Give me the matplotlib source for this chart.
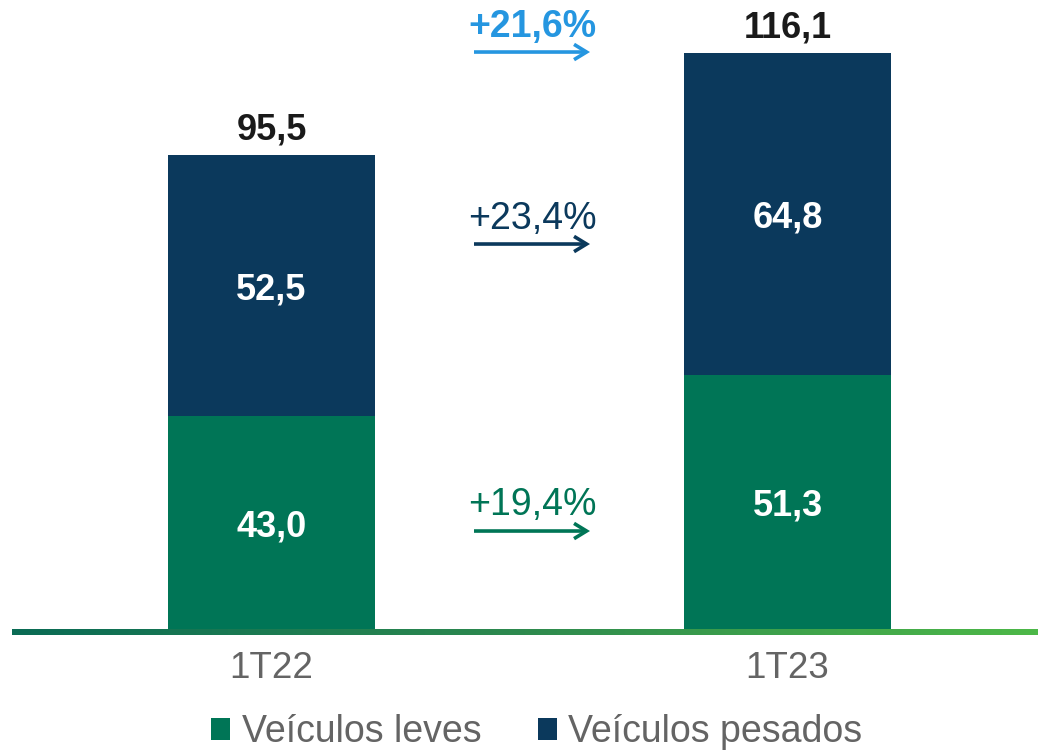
import matplotlib
matplotlib.use("Agg")
import matplotlib.pyplot as plt
import numpy as np
from matplotlib.colors import LinearSegmentedColormap
from matplotlib.patches import Patch

plt.rcParams['font.family'] = ['Liberation Sans', 'DejaVu Sans']

categories = ["1T22", "1T23"]
leves = [43.0, 51.3]
pesados = [52.5, 64.8]
totals = [95.5, 116.1]
series_names = ["Veículos leves", "Veículos pesados"]
growth_labels = ["+21,6%", "+23,4%", "+19,4%"]

GREEN = "#007556"
NAVY = "#0B395C"
BLUE = "#2596E0"
GRAY = "#646464"

W, H = 1038, 750
fig = plt.figure(figsize=(W / 100, H / 100), dpi=100)
ax = fig.add_axes([0, 0, 1, 1])
ax.set_axis_off()

pxu = 4.974  # pixels per data unit (y)
base_px = 630
ax.set_ylim(-(H - base_px) / pxu, base_px / pxu)
xc0 = 271.5
xs = 516.0
ax.set_xlim(-xc0 / xs, (W - xc0) / xs)

x = np.arange(len(categories))
bw = 207 / xs
ax.bar(x, leves, width=bw, color=GREEN, label=series_names[0], zorder=2)
ax.bar(x, pesados, width=bw, bottom=leves, color=NAVY, label=series_names[1], zorder=2)

# gradient baseline
cmap = LinearSegmentedColormap.from_list("g", ["#0A6B55", "#2E8A4E", "#4DB848"])
grad = np.linspace(0, 1, 512).reshape(1, -1)
ax.imshow(grad, cmap=cmap, aspect='auto',
          extent=[(12 - xc0) / xs, (W - xc0) / xs, -5.5 / pxu, 0.3 / pxu], zorder=3)

for i in range(len(categories)):
    ax.text(x[i], leves[i] / 2, f"{leves[i]:.1f}".replace('.', ','), color='white',
            fontsize=26, fontweight='bold', ha='center', va='center_baseline', zorder=4)
    ax.text(x[i], leves[i] + pesados[i] / 2, f"{pesados[i]:.1f}".replace('.', ','), color='white',
            fontsize=26, fontweight='bold', ha='center', va='center_baseline', zorder=4)
    ax.annotate(f"{totals[i]:.1f}".replace('.', ','), (x[i], totals[i]), xytext=(0, 11),
                textcoords='offset points', color='#1A1A1A', fontsize=26,
                fontweight='bold', ha='center', va='baseline')
    ax.text(x[i], -9.7, categories[i], color=GRAY, fontsize=26.5, ha='center', va='baseline')

# growth arrows
x0a = (474 - xc0) / xs
x1a = (590 - xc0) / xs
arrow_y = [116.2, 77.6, 19.9]
label_y = [119.3, 80.7, 23.2]
colors = [BLUE, NAVY, GREEN]
weights = ['bold', 'normal', 'normal']
for ay, ly, c, lbl, wgt in zip(arrow_y, label_y, colors, growth_labels, weights):
    ax.annotate("", xy=(x1a, ay), xytext=(x0a, ay),
                arrowprops=dict(arrowstyle="->,head_length=0.9,head_width=0.55", color=c, lw=2.6,
                                shrinkA=0, shrinkB=0, joinstyle='miter', capstyle='butt'))
    ax.text((x0a + x1a) / 2, ly, lbl, color=c, fontsize=27, fontweight=wgt,
            ha='center', va='baseline')

handles = [Patch(facecolor=GREEN, label=series_names[0]),
           Patch(facecolor=NAVY, label=series_names[1])]
leg = ax.legend(handles=handles, loc='lower center', bbox_to_anchor=(0.517, -0.045), ncol=2,
                frameon=False, fontsize=27, handlelength=0.51, handleheight=0.51,
                handletextpad=0.3, columnspacing=1.5, labelcolor=GRAY)

fig.savefig("out.png", dpi=100)
